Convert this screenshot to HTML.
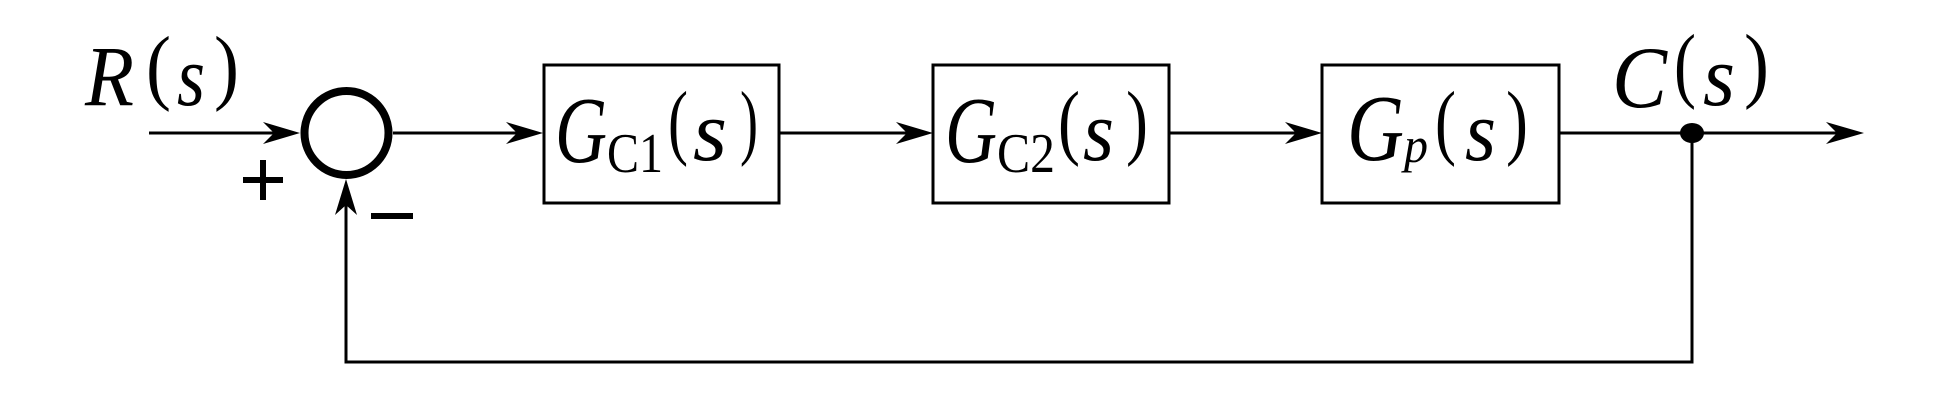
<!DOCTYPE html>
<html><head><meta charset="utf-8"><style>
html,body{margin:0;padding:0;background:#fff;}
svg{display:block;}
svg text{font-family:"Liberation Serif","Times New Roman","DejaVu Serif",serif;fill:#000;}
.i{font-style:italic;}
</style></head><body>
<svg width="1948" height="408" viewBox="0 0 1948 408" xmlns="http://www.w3.org/2000/svg" font-family="Liberation Serif, Times New Roman, serif">
<g stroke="#000" fill="none">
<line x1="149" y1="133" x2="290" y2="133" stroke-width="3"/>
<circle cx="346.5" cy="133" r="42" stroke-width="8" fill="#fff"/>
<line x1="393" y1="133" x2="535" y2="133" stroke-width="3"/>
<rect x="544" y="65" width="235" height="138" stroke-width="3"/>
<line x1="779" y1="133" x2="925" y2="133" stroke-width="3"/>
<rect x="933" y="65" width="236" height="138" stroke-width="3"/>
<line x1="1169" y1="133" x2="1315" y2="133" stroke-width="3"/>
<rect x="1322" y="65" width="237" height="138" stroke-width="3"/>
<line x1="1559" y1="133" x2="1856" y2="133" stroke-width="3"/>
<polyline points="1692,133 1692,362 346,362 346,190" stroke-width="3"/>
</g>
<g fill="#000">
<path d="M300,133 L263,122 L274,133 L263,144 Z"/>
<path d="M543,133 L506,122 L517,133 L506,144 Z"/>
<path d="M933,133 L896,122 L907,133 L896,144 Z"/>
<path d="M1322,133 L1285,122 L1296,133 L1285,144 Z"/>
<path d="M1864,133 L1826,122 L1837,133 L1826,144 Z"/>
<path d="M346,179 L335,215 L346,205 L357,215 Z"/>
<ellipse cx="1692" cy="133" rx="12" ry="10"/>
<rect x="243" y="177" width="40" height="6"/>
<rect x="260" y="160" width="6" height="40"/>
<rect x="371" y="213" width="42" height="6"/>
</g>
<!-- R(s) -->
<text class="i" x="85" y="105" font-size="86" textLength="49" lengthAdjust="spacingAndGlyphs">R</text>
<text x="146" y="94" font-size="84" textLength="25" lengthAdjust="spacingAndGlyphs">(</text>
<text class="i" x="177" y="105" font-size="86" textLength="28" lengthAdjust="spacingAndGlyphs">s</text>
<text x="214" y="94" font-size="84" textLength="25" lengthAdjust="spacingAndGlyphs">)</text>
<!-- Gc1 -->
<text class="i" x="555" y="162" font-size="94" textLength="52" lengthAdjust="spacingAndGlyphs">G</text>
<text x="607" y="172" font-size="56" textLength="56" lengthAdjust="spacingAndGlyphs">C1</text>
<text x="668" y="149" font-size="84" textLength="20" lengthAdjust="spacingAndGlyphs">(</text>
<text class="i" x="693" y="160" font-size="86" textLength="34" lengthAdjust="spacingAndGlyphs">s</text>
<text x="740" y="149" font-size="84" textLength="18" lengthAdjust="spacingAndGlyphs">)</text>
<!-- Gc2 -->
<text class="i" x="945" y="162" font-size="94" textLength="52" lengthAdjust="spacingAndGlyphs">G</text>
<text x="997" y="172" font-size="56" textLength="58" lengthAdjust="spacingAndGlyphs">C2</text>
<text x="1058" y="149" font-size="84" textLength="22" lengthAdjust="spacingAndGlyphs">(</text>
<text class="i" x="1083" y="160" font-size="86" textLength="31" lengthAdjust="spacingAndGlyphs">s</text>
<text x="1126" y="149" font-size="84" textLength="22" lengthAdjust="spacingAndGlyphs">)</text>
<!-- Gp -->
<text class="i" x="1347" y="160" font-size="94" textLength="57" lengthAdjust="spacingAndGlyphs">G</text>
<text class="i" x="1404" y="162" font-size="50" textLength="24" lengthAdjust="spacingAndGlyphs">p</text>
<text x="1435" y="149" font-size="84" textLength="21" lengthAdjust="spacingAndGlyphs">(</text>
<text class="i" x="1465" y="160" font-size="86" textLength="31" lengthAdjust="spacingAndGlyphs">s</text>
<text x="1506" y="149" font-size="84" textLength="22" lengthAdjust="spacingAndGlyphs">)</text>
<!-- C(s) -->
<text class="i" x="1612" y="107" font-size="88" textLength="55" lengthAdjust="spacingAndGlyphs">C</text>
<text x="1674" y="92" font-size="84" textLength="22" lengthAdjust="spacingAndGlyphs">(</text>
<text class="i" x="1703" y="105" font-size="86" textLength="32" lengthAdjust="spacingAndGlyphs">s</text>
<text x="1744" y="92" font-size="84" textLength="25" lengthAdjust="spacingAndGlyphs">)</text>
</svg>
</body></html>
